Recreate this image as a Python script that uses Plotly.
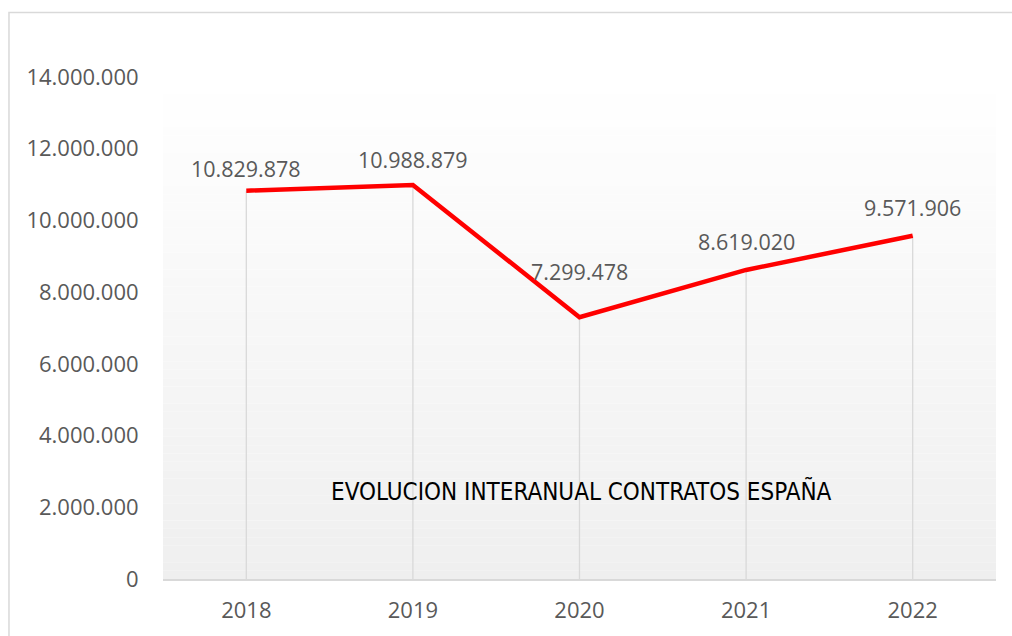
import plotly.graph_objects as go

years = ["2018", "2019", "2020", "2021", "2022"]
contratos = [10829878, 10988879, 7299478, 8619020, 9571906]
y_tick_vals = [0, 2000000, 4000000, 6000000, 8000000, 10000000, 12000000, 14000000]
y_tick_text = ["0", "2.000.000", "4.000.000", "6.000.000", "8.000.000",
               "10.000.000", "12.000.000", "14.000.000"]
title_text = "EVOLUCION INTERANUAL CONTRATOS ESPAÑA"

def fmt(v):
    return f"{v:,}".replace(",", ".")

xpos = list(range(len(years)))
label_shift = [22, 25, 46, 28, 28]

FONT = "Open Sans, Liberation Sans, sans-serif"
GREY_TXT = "#595959"

fig = go.Figure()

# drop lines (from each point down to the axis)
fig.add_trace(go.Scatter(
    x=xpos, y=contratos, mode="markers",
    marker=dict(size=1, color="rgba(0,0,0,0)"),
    error_y=dict(type="data", symmetric=False, array=[0]*len(contratos),
                 arrayminus=contratos, color="#d9d9d9", thickness=1.3, width=0),
    hoverinfo="skip", showlegend=False))

fig.add_trace(go.Scatter(
    x=xpos, y=contratos, mode="lines",
    line=dict(color="#ff0000", width=4.5),
    showlegend=False))

annotations = []
for xp, v, s in zip(xpos, contratos, label_shift):
    annotations.append(dict(x=xp, y=v, xref="x", yref="y", text=fmt(v),
                            showarrow=False, yshift=s,
                            xanchor="center", yanchor="middle",
                            font=dict(family=FONT, size=21.5, color=GREY_TXT)))
annotations.append(dict(x=0.503, y=0.176, xref="paper", yref="paper",
                        text=title_text, showarrow=False,
                        xanchor="center", yanchor="middle",
                        font=dict(family="Liberation Sans Narrow, DejaVu Sans Condensed, Arial Narrow, sans-serif",
                                  size=24, color="#000000")))

shapes = []
n = 60
for i in range(n):
    t = (i + 0.5) / n  # 0 top -> 1 bottom
    c = int(round(255 - t * (255 - 239)))
    shapes.append(dict(type="rect", xref="x domain", yref="y domain",
                       x0=0, x1=1, y0=1 - (i + 1) / n, y1=1 - i / n,
                       fillcolor=f"rgb({c},{c},{c})", line=dict(width=0),
                       layer="below"))
# outer chart border
shapes.append(dict(type="rect", xref="paper", yref="paper",
                   x0=-0.1849, x1=1.05, y0=-0.3, y1=1.1287,
                   line=dict(color="#d9d9d9", width=1.5),
                   fillcolor="rgba(0,0,0,0)", layer="below"))

fig.update_layout(
    width=1012, height=636,
    margin=dict(l=163, r=16, t=77, b=54),
    paper_bgcolor="white", plot_bgcolor="rgba(0,0,0,0)",
    shapes=shapes, annotations=annotations,
    font=dict(family=FONT, size=22, color=GREY_TXT),
)
fig.update_xaxes(range=[-0.5, len(years) - 0.5], tickvals=xpos, ticktext=years,
                 showgrid=False, showline=True,
                 linecolor="#d9d9d9", linewidth=1.5,
                 ticks="outside", ticklen=11, tickcolor="rgba(0,0,0,0)",
                 tickfont=dict(family=FONT, size=22, color=GREY_TXT),
                 zeroline=False)
fig.update_yaxes(range=[0, 14000000], tickvals=y_tick_vals, ticktext=y_tick_text,
                 showgrid=False, showline=False, zeroline=False,
                 ticks="outside", ticklen=19, tickcolor="rgba(0,0,0,0)",
                 tickfont=dict(family=FONT, size=22, color=GREY_TXT))

fig.write_html("out.html", config={"displayModeBar": False},
               post_script="document.body.style.margin='0';document.body.style.overflow='hidden';")
